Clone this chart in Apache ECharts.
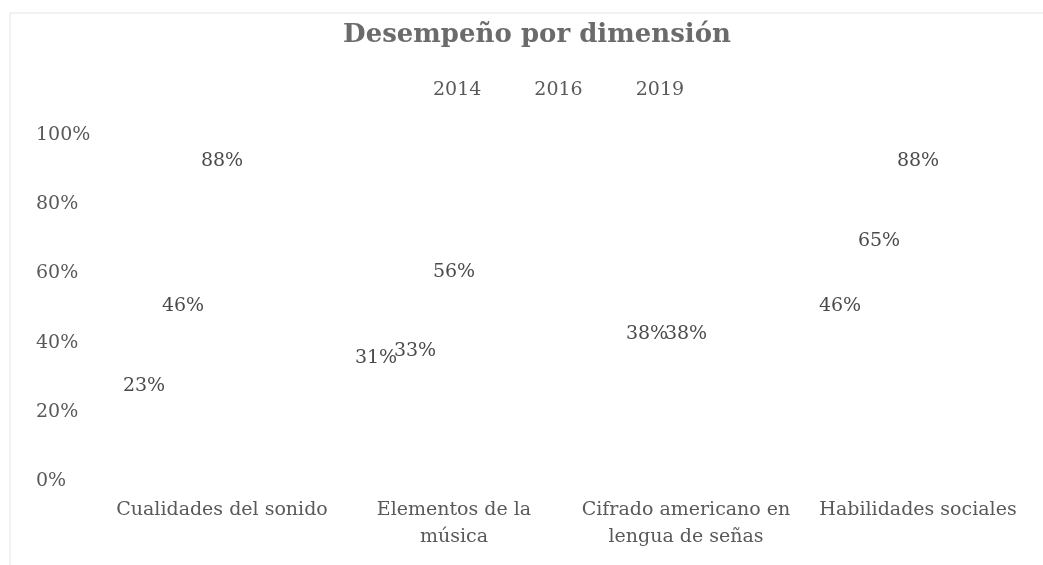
<!DOCTYPE html>
<html>
<head>
<meta charset="utf-8">
<script src="https://cdn.jsdelivr.net/npm/echarts@6/dist/echarts.min.js"></script>
<style>
  html, body { margin: 0; padding: 0; background: #fff; }
  #chart { width: 1043px; height: 565px; }
</style>
</head>
<body>
<div id="chart"></div>
<script>
// categorías (eje x)
const categories = [
  "Cualidades del sonido",
  "Elementos de la\nmúsica",
  "Cifrado americano en\nlengua de señas",
  "Habilidades sociales"
];
const years = ["2014", "2016", "2019"];
// porcentajes por año
const values2014 = [23, 31, null, 46];
const values2016 = [46, 33, 38, 65];
const values2019 = [88, 56, 38, 88];
const yTicks = [0, 20, 40, 60, 80, 100];

const chart = echarts.init(document.getElementById("chart"));
const textFont = "DejaVu Serif";

function barSeries(name, data) {
  return {
    name: name,
    type: "bar",
    data: data,
    barWidth: 39,
    barGap: "0%",
    itemStyle: { color: "rgba(0,0,0,0)" },
    label: {
      show: true,
      position: "top",
      distance: 6,
      formatter: "{c}%",
      color: "#4a4a4a",
      fontFamily: textFont,
      fontSize: 19
    }
  };
}

chart.setOption({
  backgroundColor: "#fff",
  animation: false,
  title: {
    text: "Desempeño por dimensión",
    left: 532,
    textAlign: "center",
    top: 17,
    textStyle: {
      color: "#6b6b6b",
      fontFamily: textFont,
      fontWeight: "bold",
      fontSize: 26
    }
  },
  legend: {
    data: years,
    icon: "none",
    itemWidth: 0,
    itemGap: 48,
    left: 423,
    top: 76,
    textStyle: {
      color: "#595959",
      fontFamily: textFont,
      fontSize: 19
    }
  },
  grid: { left: 106, right: 9, top: 135, bottom: 84 },
  xAxis: {
    type: "category",
    data: categories,
    axisLine: { show: false },
    axisTick: { show: false },
    axisLabel: {
      interval: 0,
      margin: 16,
      color: "#595959",
      fontFamily: textFont,
      fontSize: 19,
      lineHeight: 27
    }
  },
  yAxis: {
    type: "value",
    min: yTicks[0],
    max: yTicks[yTicks.length - 1],
    interval: 20,
    splitLine: { show: false },
    axisLine: { show: false },
    axisTick: { show: false },
    axisLabel: {
      formatter: "{value}%",
      align: "left",
      margin: 70,
      color: "#595959",
      fontFamily: textFont,
      fontSize: 19
    }
  },
  graphic: [
    {
      type: "polyline",
      shape: { points: [[10, 565], [10, 13], [1043, 13]] },
      style: { stroke: "#e4e4e4", lineWidth: 1, fill: null }
    }
  ],
  series: [
    barSeries("2014", values2014),
    barSeries("2016", values2016),
    barSeries("2019", values2019),
    // columnas vacías que ocupan los huecos de la derecha de cada grupo
    { name: "", type: "bar", data: [], barWidth: 39 },
    { name: "", type: "bar", data: [], barWidth: 39 }
  ]
});
</script>
</body>
</html>
